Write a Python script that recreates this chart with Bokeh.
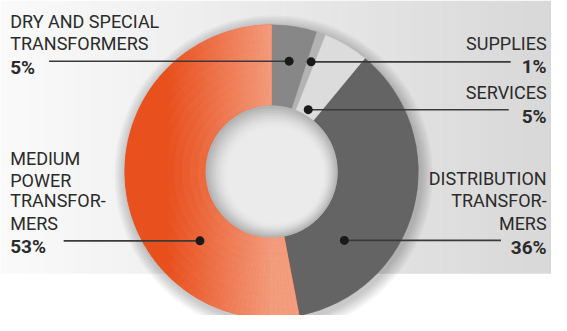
import numpy as np
from bokeh.plotting import figure
from bokeh.models import Range1d, ColumnDataSource
from bokeh.core.properties import value
from bokeh.embed import file_html
from bokeh.resources import INLINE

# ---- data ----
categories = ["DRY AND SPECIAL TRANSFORMERS", "SUPPLIES", "SERVICES",
              "DISTRIBUTION TRANSFORMERS", "MEDIUM POWER TRANSFORMERS"]
shares = [5, 1, 5, 36, 53]
pct_labels = ["5%", "1%", "5%", "36%", "53%"]
slice_colors = ["#878787", "#b3b3b3", "#dcdcdc", "#646464", "#ea5a28"]

# label lines (text)
label_lines = [["DRY AND SPECIAL", "TRANSFORMERS"], ["SUPPLIES"], ["SERVICES"],
               ["DISTRIBUTION", "TRANSFOR-", "MERS"],
               ["MEDIUM", "POWER", "TRANSFOR-", "MERS"]]

# ---- layout ----
W, H = 551, 315
cx, cy = 279.0, -181.0
R_OUT, R_IN = 151.0, 68.0
FONT = "Roboto"
TXT = "#2b2b2b"

p = figure(width=W, height=H, output_backend="svg", toolbar_location=None,
           x_range=Range1d(0, 567), y_range=Range1d(-329, -5),
           min_border=0)
p.axis.visible = False
p.grid.visible = False
p.outline_line_color = None
p.background_fill_color = "white"
p.border_fill_color = "white"

# background gradient band
def lerp_hex(c1, c2, t):
    a = np.array([int(c1[i:i + 2], 16) for i in (1, 3, 5)], float)
    b = np.array([int(c2[i:i + 2], 16) for i in (1, 3, 5)], float)
    c = a + (b - a) * t
    return "#%02x%02x%02x" % tuple(int(round(v)) for v in c)

nb = 60
xs = np.linspace(0, 567, nb + 1)
bg_cols = [lerp_hex("#fafafa", "#d8d8d8", i / (nb - 1)) for i in range(nb)]
p.quad(left=xs[:-1], right=xs[1:] + 0.5, top=-5, bottom=-286,
       fill_color=bg_cols, line_color=None)

# drop shadow
for k in range(8):
    r = R_OUT + 13 - k * 1.6
    p.circle(x=cx + 2, y=cy - 3, radius=r, fill_color="black",
             fill_alpha=0.028, line_color=None)

# slices: clockwise from top
frac = np.array(shares, float) / sum(shares)
cum = np.concatenate([[0], np.cumsum(frac)]) * 360.0
th1, th2 = cum[:-1], cum[1:]
start = np.radians(90 - th2)
end = np.radians(90 - th1)
src = ColumnDataSource(dict(start=start, end=end, color=slice_colors, cat=categories))
p.annular_wedge(x=cx, y=cy, inner_radius=R_IN, outer_radius=R_OUT,
                start_angle="start", end_angle="end", direction="anticlock",
                fill_color="color", line_color="color", line_width=0.5, source=src)

# orange gradient overlay on the medium power slice
a0, a1 = th1[4], th2[4]
na, nr = 96, 10
angs = np.linspace(a0, a1, na + 1)
rads = np.linspace(R_IN, R_OUT, nr + 1)
gs, ge, gi, go, gc = [], [], [], [], []
for i in range(na):
    for j in range(nr):
        am = np.radians((angs[i] + angs[i + 1]) / 2)
        rm = (rads[j] + rads[j + 1]) / 2
        xm = cx + rm * np.sin(am)
        t = np.clip((xm - 172) / (cx - 172), 0, 1)
        gs.append(np.radians(90 - angs[i + 1]))
        ge.append(np.radians(90 - angs[i]))
        gi.append(rads[j])
        go.append(rads[j + 1])
        gc.append(lerp_hex("#e8501e", "#f39c7e", t))
p.annular_wedge(x=cx, y=cy, inner_radius=gi, outer_radius=go,
                start_angle=gs, end_angle=ge, direction="anticlock",
                fill_color=gc, line_color=gc, line_width=0.6)

# inner hole with inset shading
hole_cols = ["#b4b4b4", "#bdbdbd", "#c6c6c6", "#cfcfcf", "#d7d7d7",
             "#dedede", "#e4e4e4", "#e8e8e8", "#ebebeb"]
for k, c in enumerate(hole_cols):
    r = R_IN - k * 2.2
    off = k * 0.45
    p.circle(x=cx + off, y=cy - off, radius=r, fill_color=c, line_color=None)

# leader lines and dots
dot_ang = [(th1[0] + th2[0]) / 2, (th1[1] + th2[1]) / 2, (th1[2] + th2[2]) / 2, 133.4, 226.0]
dot_r = [115, 120, 74, 103, 102.5]
dx = [cx + r * np.sin(np.radians(a)) for a, r in zip(dot_ang, dot_r)]
dy = [cy + r * np.cos(np.radians(a)) for a, r in zip(dot_ang, dot_r)]
line_end = [50, 525, 523, 515, 65]
for i in range(5):
    p.line(x=[line_end[i], dx[i]], y=[dy[i], dy[i]], line_color="#3a3a3a", line_width=1.6)
p.scatter(x=dx, y=dy, size=9, marker="circle", fill_color="#1a1a1a", line_color=None)

# texts
def put(x, ys, texts, align, bold=False, size="18px"):
    p.text(x=[x] * len(ys), y=ys, text=texts, text_align=align,
           text_baseline="alphabetic", text_font=value(FONT),
           text_font_size=size, text_color=TXT,
           text_font_style="bold" if bold else "normal")

LX, RX = 10, 562
put(LX, [-27, -49], label_lines[0], "left")
put(LX, [-74], [pct_labels[0]], "left", bold=True, size="19px")
put(RX, [-49], label_lines[1], "right")
put(RX, [-73], [pct_labels[1]], "right", bold=True, size="19px")
put(RX, [-100], label_lines[2], "right")
put(RX, [-124], [pct_labels[2]], "right", bold=True, size="19px")
put(RX, [-188, -211, -234], label_lines[3], "right")
put(RX, [-259], [pct_labels[3]], "right", bold=True, size="19px")
put(LX, [-167, -190, -211, -234], label_lines[4], "left")
put(LX, [-258], [pct_labels[4]], "left", bold=True, size="19px")

open("out.html", "w").write(file_html(p, INLINE))
